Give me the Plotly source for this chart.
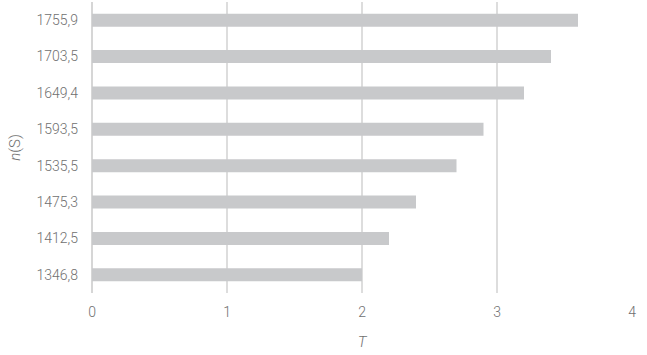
import plotly.graph_objects as go

categories = ["1346,8", "1412,5", "1475,3", "1535,5", "1593,5", "1649,4", "1703,5", "1755,9"]
values = [2.0, 2.2, 2.4, 2.7, 2.9, 3.2, 3.4, 3.6]
x_ticks = [0, 1, 2, 3, 4]

fig = go.Figure(go.Bar(
    y=categories, x=values, orientation="h",
    marker=dict(color="#c8c9cb", line=dict(width=0)),
    width=0.36,
))

font_fam = "Roboto, 'Open Sans', sans-serif"
fig.update_layout(
    width=647, height=355,
    margin=dict(l=92, r=15, t=2, b=62),
    plot_bgcolor="white", paper_bgcolor="white",
    showlegend=False,
    font=dict(family=font_fam, size=14, color="#707070", weight=300),
    bargap=0.64,
)
fig.update_xaxes(
    range=[0, 4.0], tickvals=x_ticks, ticktext=[str(t) for t in x_ticks],
    showgrid=True, gridcolor="#dddddd", gridwidth=1.5,
    zeroline=True, zerolinecolor="#d6d6d6", zerolinewidth=1.5,
    showline=False, ticks="", ticklabelstandoff=9,
    title=dict(text="<i>T</i>", standoff=17, font=dict(size=15)),
    fixedrange=True,
)
fig.update_yaxes(
    type="category", categoryorder="array", categoryarray=categories,
    showgrid=False, showline=False, ticks="", ticklabelstandoff=13,
    title=dict(text="<i>n</i>(S)", standoff=12, font=dict(size=15)),
    fixedrange=True,
)
fig.write_html("out.html")
